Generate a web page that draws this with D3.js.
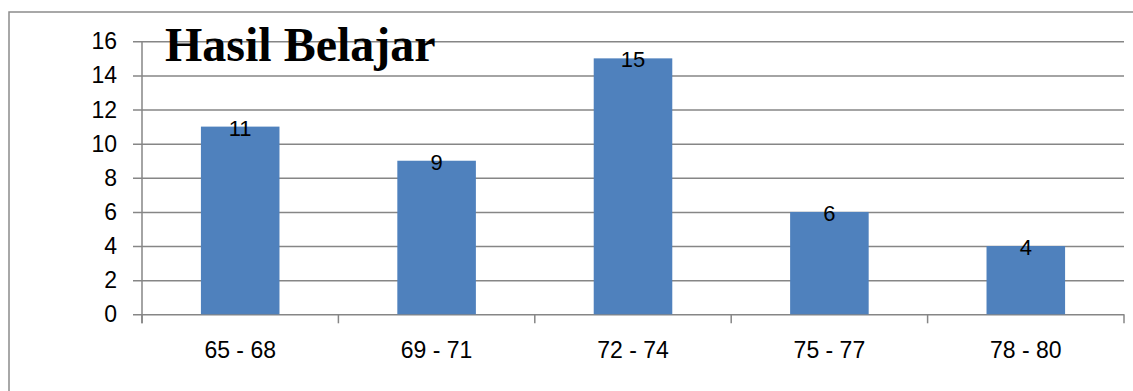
<html>
<head>
<script src="https://cdn.jsdelivr.net/npm/d3@7/dist/d3.min.js"></script>
<style>
  body { margin: 0; background: #fff; }
  svg text { font-family: "Liberation Sans", Arial, sans-serif; fill: #000; }
  .chart-title { font-family: "Liberation Serif", "Times New Roman", serif; font-weight: bold; }
</style>
</head>
<body>
<svg id="chart"></svg>
<script>
// data
var categories = ["65 - 68", "69 - 71", "72 - 74", "75 - 77", "78 - 80"];
var values = [11, 9, 15, 6, 4];
var yTicks = [0, 2, 4, 6, 8, 10, 12, 14, 16];
var title = "Hasil Belajar";

var W = 1133, H = 391;
var svg = d3.select("#chart").attr("width", W).attr("height", H);

// outer frame (runs off the right/bottom edge like the original)
svg.append("rect")
   .attr("x", 9).attr("y", 12)
   .attr("width", W).attr("height", H)
   .attr("fill", "none")
   .attr("stroke", "#8c8c8c")
   .attr("stroke-width", 1.5);

var x0 = 142, x1 = 1124, yTop = 41.3, yBot = 314.3;

var x = d3.scaleBand().domain(categories).range([x0, x1]).paddingInner(0.6).paddingOuter(0.3);
var y = d3.scaleLinear().domain([0, 16]).range([yBot, yTop]);

// gridlines, drawn from the right so they poke out 9px left of the axis
var gy = svg.append("g").attr("transform", "translate(" + x1 + ",0)");
gy.call(d3.axisLeft(y).tickValues(yTicks).tickSize(x1 - x0 + 9).tickFormat(""));
gy.select(".domain").remove();
gy.selectAll(".tick line").attr("stroke", "#868686").attr("stroke-width", 1.5);

// y tick labels
svg.append("g").selectAll("text")
   .data(yTicks)
   .join("text")
   .attr("x", 117)
   .attr("y", function (d) { return y(d) + 8; })
   .attr("text-anchor", "end")
   .style("font-size", "23px")
   .text(function (d) { return d; });

// y axis line
svg.append("line")
   .attr("x1", x0).attr("x2", x0)
   .attr("y1", yTop).attr("y2", yBot + 9)
   .attr("stroke", "#868686").attr("stroke-width", 1.5);

// x axis ticks (between categories)
var xTickPos = d3.range(categories.length + 1).map(function (i) { return x0 + i * x.step(); });
svg.append("g").selectAll("line")
   .data(xTickPos)
   .join("line")
   .attr("x1", function (d) { return d; }).attr("x2", function (d) { return d; })
   .attr("y1", yBot).attr("y2", yBot + 9)
   .attr("stroke", "#868686").attr("stroke-width", 1.5);

// bars
svg.append("g").selectAll("rect")
   .data(values)
   .join("rect")
   .attr("x", function (d, i) { return x(categories[i]); })
   .attr("y", function (d) { return y(d); })
   .attr("width", x.bandwidth())
   .attr("height", function (d) { return yBot - y(d); })
   .attr("fill", "#4f81bd");

// data labels
svg.append("g").selectAll("text")
   .data(values)
   .join("text")
   .attr("x", function (d, i) { return x(categories[i]) + x.bandwidth() / 2; })
   .attr("y", function (d) { return y(d) + 9; })
   .attr("text-anchor", "middle")
   .style("font-size", "22px")
   .text(function (d) { return d; });

// x labels
svg.append("g").selectAll("text")
   .data(categories)
   .join("text")
   .attr("x", function (d) { return x(d) + x.bandwidth() / 2; })
   .attr("y", 358)
   .attr("text-anchor", "middle")
   .style("font-size", "23px")
   .text(function (d) { return d; });

// title
svg.append("text")
   .attr("class", "chart-title")
   .attr("x", 165)
   .attr("y", 61)
   .style("font-size", "48px")
   .text(title);
</script>
</body>
</html>
